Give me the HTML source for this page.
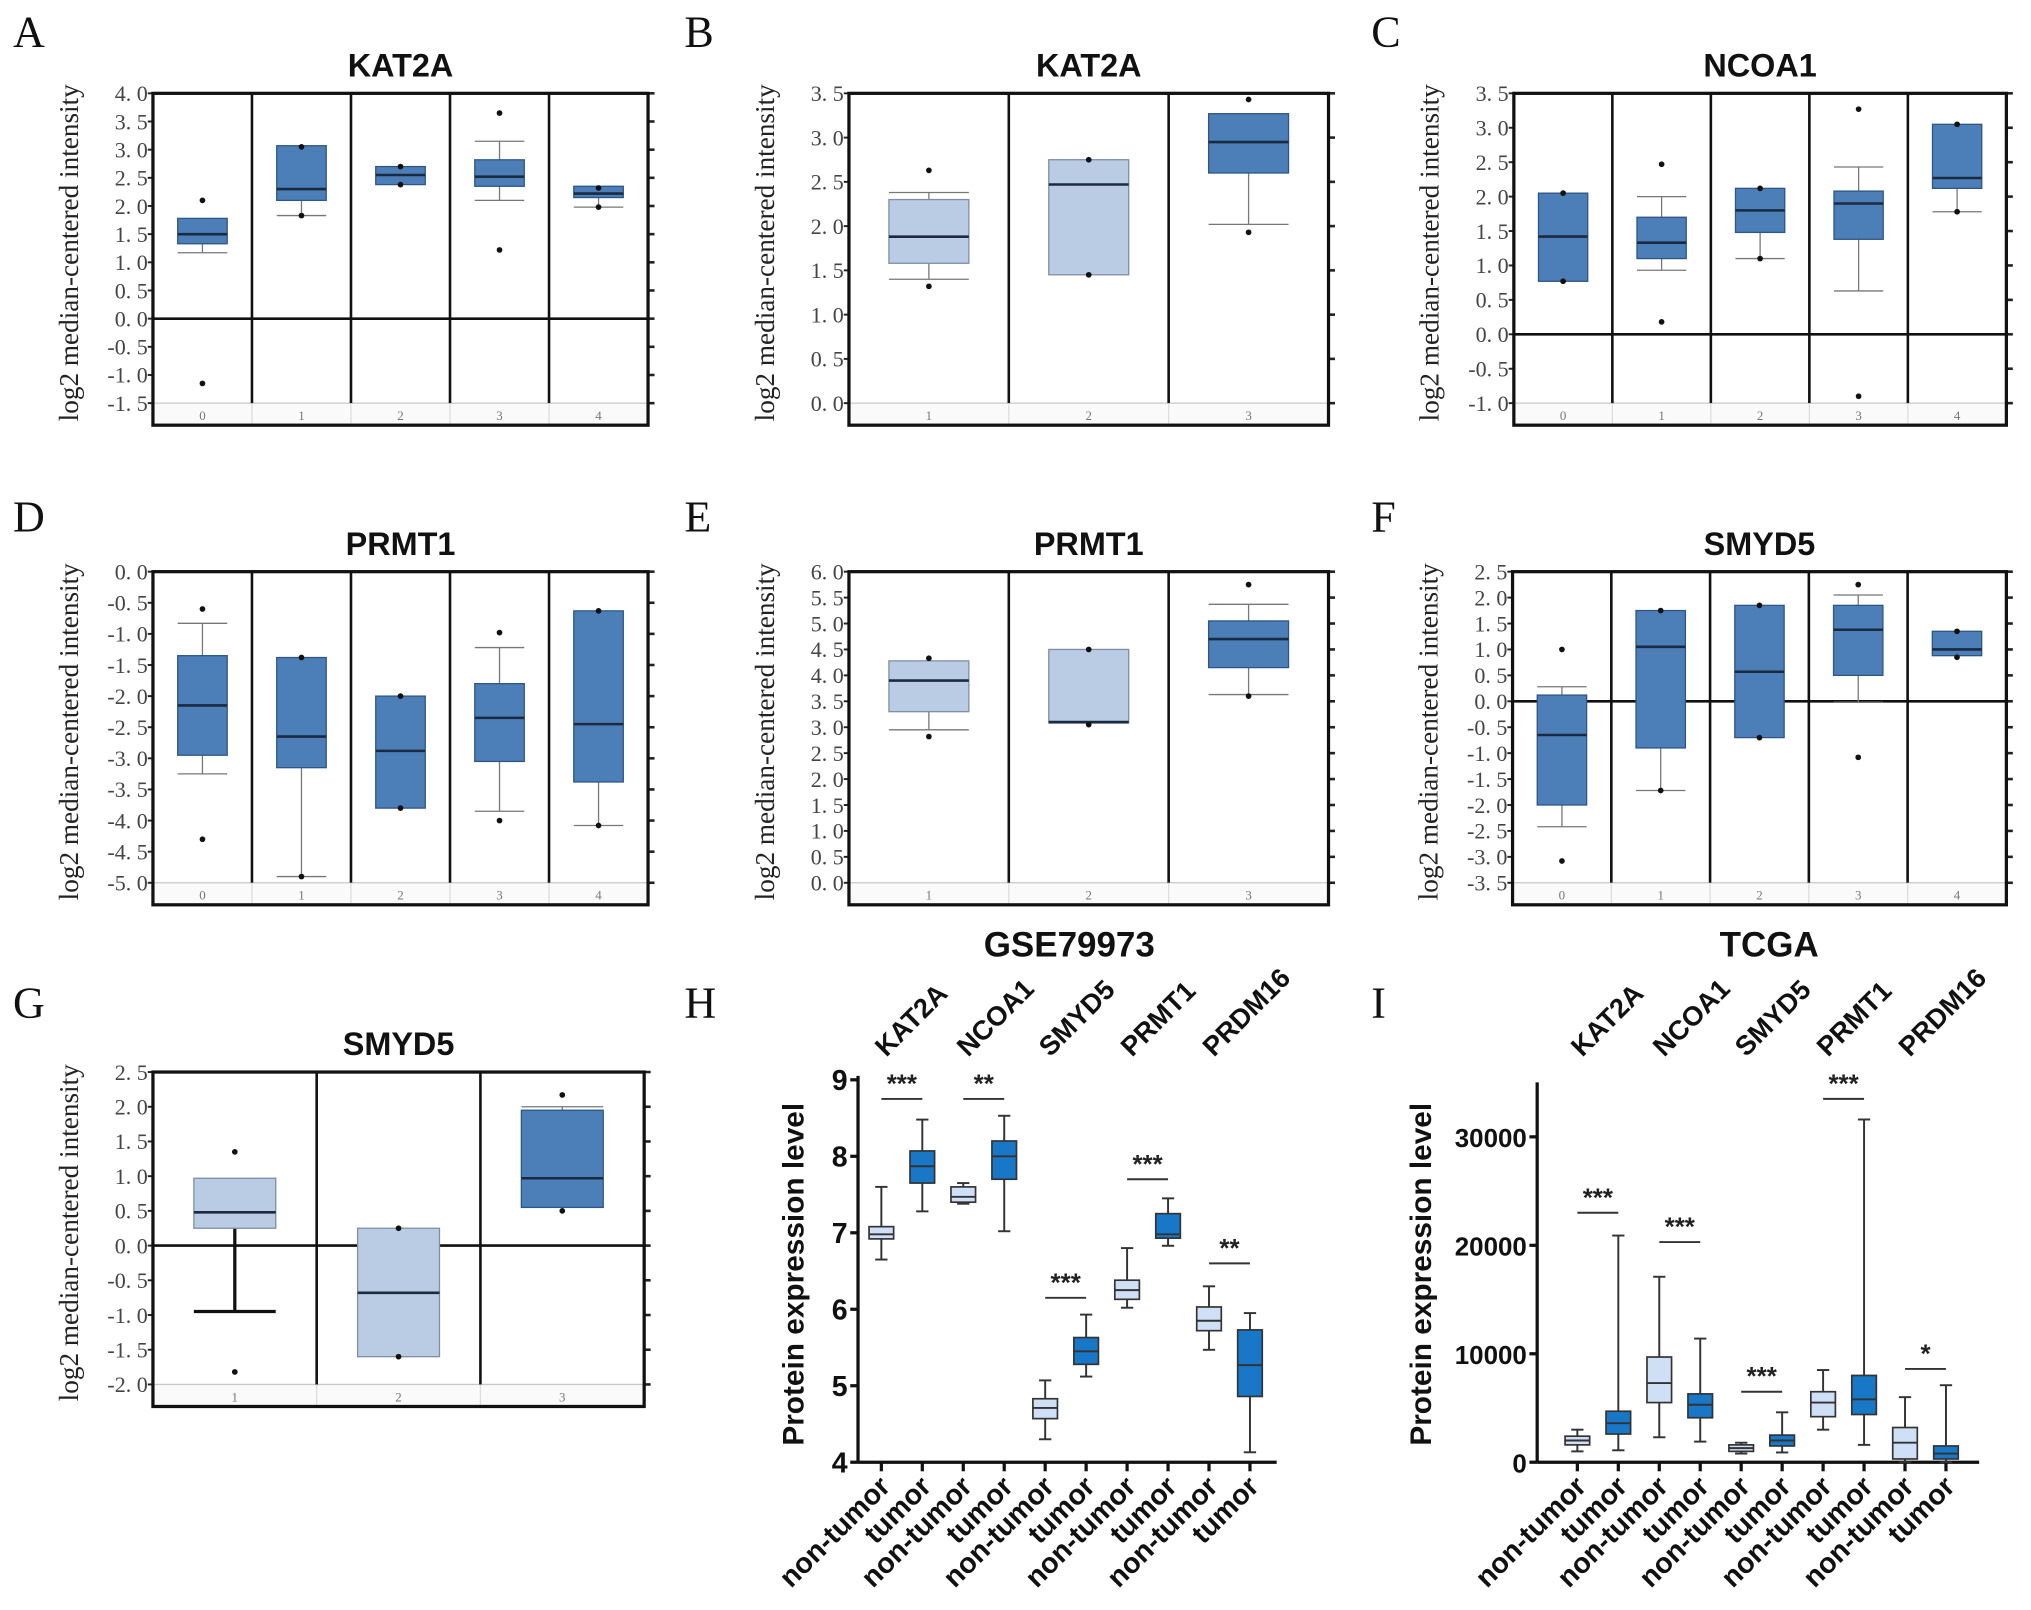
<!DOCTYPE html>
<html><head><meta charset="utf-8">
<style>
html,body{margin:0;padding:0;background:#fff;}
svg{display:block;}
.serif{font-family:"Liberation Serif",serif;}
.sans{font-family:"Liberation Sans",sans-serif;}
</style></head>
<body>
<svg id="fig" xmlns="http://www.w3.org/2000/svg" width="2031" height="1610" viewBox="0 0 1567 1242" preserveAspectRatio="none"></svg>
<script>
// ---------- Oncomine panel data (q1, median, q3, whisker lo, whisker hi, outliers) ----------
const aGroups = ["0","1","2","3","4"];
const aQ1 = [1.33, 2.1, 2.38, 2.35, 2.15];
const aMed = [1.5, 2.3, 2.55, 2.52, 2.22];
const aQ3 = [1.78, 3.07, 2.7, 2.82, 2.35];
const aLo = [1.17, 1.83, 2.38, 2.1, 1.98];
const aHi = [1.78, 3.07, 2.7, 3.15, 2.35];
const aOut = [[2.1, -1.15], [3.05, 1.83], [2.7, 2.38], [3.65, 1.22], [2.32, 1.98]];

const bGroups = ["1","2","3"];
const bQ1 = [1.58, 1.45, 2.6];
const bMed = [1.88, 2.47, 2.95];
const bQ3 = [2.3, 2.75, 3.27];
const bLo = [1.4, 1.45, 2.02];
const bHi = [2.38, 2.75, 3.27];
const bOut = [[2.63, 1.32], [2.75, 1.45], [3.43, 1.93]];

const cGroups = ["0","1","2","3","4"];
const cQ1 = [0.77, 1.1, 1.48, 1.38, 2.12];
const cMed = [1.42, 1.33, 1.8, 1.9, 2.27];
const cQ3 = [2.05, 1.7, 2.12, 2.08, 3.05];
const cLo = [0.77, 0.93, 1.1, 0.63, 1.78];
const cHi = [2.05, 2.0, 2.12, 2.43, 3.05];
const cOut = [[2.05, 0.77], [2.47, 0.18], [2.12, 1.1], [3.27, -0.9], [3.05, 1.78]];

const dGroups = ["0","1","2","3","4"];
const dQ1 = [-2.95, -3.15, -3.8, -3.05, -3.38];
const dMed = [-2.15, -2.65, -2.88, -2.35, -2.45];
const dQ3 = [-1.35, -1.38, -2.0, -1.8, -0.63];
const dLo = [-3.25, -4.9, -3.8, -3.85, -4.08];
const dHi = [-0.83, -1.38, -2.0, -1.22, -0.63];
const dOut = [[-0.6, -4.3], [-1.38, -4.9], [-2.0, -3.8], [-0.98, -4.0], [-0.63, -4.08]];

const eGroups = ["1","2","3"];
const eQ1 = [3.3, 3.08, 4.15];
const eMed = [3.9, 3.1, 4.7];
const eQ3 = [4.28, 4.5, 5.05];
const eLo = [2.95, 3.08, 3.63];
const eHi = [4.28, 4.5, 5.37];
const eOut = [[4.33, 2.82], [4.5, 3.05], [5.75, 3.6]];

const fGroups = ["0","1","2","3","4"];
const fQ1 = [-2.0, -0.9, -0.7, 0.5, 0.88];
const fMed = [-0.65, 1.05, 0.57, 1.38, 1.0];
const fQ3 = [0.12, 1.75, 1.85, 1.85, 1.35];
const fLo = [-2.42, -1.72, -0.7, -0.02, 0.88];
const fHi = [0.28, 1.75, 1.85, 2.05, 1.35];
const fOut = [[1.0, -3.08], [1.75, -1.72], [1.85, -0.7], [2.25, -1.08], [1.35, 0.85]];

const gGroups = ["1","2","3"];
const gQ1 = [0.25, -1.6, 0.55];
const gMed = [0.48, -0.68, 0.97];
const gQ3 = [0.97, 0.25, 1.95];
const gLo = [-0.95, -1.6, 0.55];
const gHi = [0.97, 0.25, 2.0];
const gOut = [[1.35, -1.82], [0.25, -1.6], [2.17, 0.5]];

// ---------- Protein panels ----------
const genes = ["KAT2A","NCOA1","SMYD5","PRMT1","PRDM16"];
const sampleLabels = ["non-tumor","tumor","non-tumor","tumor","non-tumor","tumor","non-tumor","tumor","non-tumor","tumor"];
const hLo = [6.65, 7.28, 7.38, 7.02, 4.3, 5.12, 6.02, 6.83, 5.47, 4.13];
const hQ1 = [6.92, 7.65, 7.4, 7.7, 4.57, 5.28, 6.13, 6.93, 5.72, 4.86];
const hMed = [6.98, 7.87, 7.47, 8.0, 4.71, 5.45, 6.25, 6.98, 5.85, 5.27];
const hQ3 = [7.08, 8.07, 7.6, 8.2, 4.83, 5.63, 6.38, 7.25, 6.03, 5.73];
const hHi = [7.6, 8.48, 7.65, 8.53, 5.07, 5.93, 6.8, 7.45, 6.3, 5.95];
const hSig = ["***","**","***","***","**"];
const hSigY = [8.75, 8.75, 6.15, 7.7, 6.6];
const hTicks = [4,5,6,7,8,9];

const iLo = [1000, 1100, 2300, 1900, 800, 900, 3000, 1600, 0, 0];
const iQ1 = [1600, 2600, 5500, 4100, 1000, 1500, 4200, 4400, 300, 300];
const iMed = [2000, 3600, 7300, 5300, 1300, 2000, 5500, 5800, 1800, 800];
const iQ3 = [2400, 4700, 9700, 6300, 1600, 2500, 6500, 8000, 3200, 1500];
const iHi = [3000, 20900, 17100, 11400, 1800, 4600, 8500, 31600, 6000, 7100];
const iSig = ["***","***","***","***","*"];
const iSigY = [23000, 20300, 6500, 33500, 8600];
const iTicks = [0, 10000, 20000, 30000];

const NS = "http://www.w3.org/2000/svg";
const svg = document.getElementById("fig");
function mk(tag, attrs, parent, text){
  const e = document.createElementNS(NS, tag);
  for (const k in attrs) e.setAttribute(k, attrs[k]);
  if (text !== undefined) e.textContent = text;
  (parent || svg).appendChild(e);
  return e;
}

function panelLetter(ch, x, y){
  const t = mk("text", {x:x, y:y, "font-size":34, class:"serif", fill:"#111"}, svg, ch);
  
  
}

function onco(o){
  const g = mk("g", {});
  
  
  const n = o.groups.length;
  const span = o.yBot - o.yTop;
  const y = v => o.yTop + (o.max - v) / (o.max - o.min) * span;
  const colW = (o.x1 - o.x0) / n;
  const cx = i => o.x0 + colW * (i + 0.5);
  const bottom = o.yBot + 17;
  const tt = mk("text", {x:(o.x0+o.x1)/2, y:o.yTop-13, "text-anchor":"middle", "font-size":25, "font-weight":"bold", class:"sans", fill:"#111"}, g, o.title);
  
  
  const mid = (o.yTop + bottom) / 2 - 5;
  const tx = o.x0 - 58;
  const yt = mk("text", {x:tx, y:mid, transform:`rotate(-90 ${tx} ${mid})`, "text-anchor":"middle", "font-size":21, class:"serif", fill:"#222"}, g, "log2 median-centered intensity");
  
  
  mk("rect", {x:o.x0, y:o.yBot, width:o.x1-o.x0, height:bottom-o.yBot, fill:"#fafafa"}, g);
  mk("line", {x1:o.x0, x2:o.x1, y1:o.yBot, y2:o.yBot, stroke:"#c8c8c8", "stroke-width":1}, g);
  for (let v = o.min; v <= o.max + 1e-9; v += 0.5) {
    const yy = y(v);
    const lab = mk("text", {x:o.x0-4, y:yy+6, "text-anchor":"end", "font-size":17, class:"serif", fill:"#444"}, g, v.toFixed(1).replace(".", ". "));
    
    
    mk("line", {x1:o.x0-4, x2:o.x0, y1:yy, y2:yy, stroke:"#222", "stroke-width":1.5}, g);
    mk("line", {x1:o.x1, x2:o.x1+5, y1:yy, y2:yy, stroke:"#222", "stroke-width":2}, g);
  }
  if (o.min < 0 && o.max > 0) mk("line", {x1:o.x0, x2:o.x1, y1:y(0), y2:y(0), stroke:"#111", "stroke-width":2}, g);
  for (let i = 1; i < n; i++) {
    const xx = o.x0 + colW * i;
    mk("line", {x1:xx, x2:xx, y1:o.yTop, y2:o.yBot, stroke:"#111", "stroke-width":2}, g);
    mk("line", {x1:xx, x2:xx, y1:o.yBot, y2:bottom, stroke:"#ddd", "stroke-width":1}, g);
  }
  const fr = mk("rect", {x:o.x0, y:o.yTop, width:o.x1-o.x0, height:bottom-o.yTop, fill:"none", stroke:"#111", "stroke-width":2.5}, g);
  
  
  const bw = colW * 0.5;
  for (let i = 0; i < n; i++) {
    const c = cx(i);
    const fill = o.light && o.light[i] ? "#b9cce4" : "#4c7fb8";
    const stroke = o.light && o.light[i] ? "#7f8fa3" : "#2d5686";
    const ww = o.thick && o.thick[i] ? 2.5 : 1;
    const wc = o.thick && o.thick[i] ? "#111" : "#777";
    if (o.lo[i] < o.q1[i]) {
      mk("line", {x1:c, x2:c, y1:y(o.q1[i]), y2:y(o.lo[i]), stroke:wc, "stroke-width":ww}, g);
      mk("line", {x1:c-bw/2, x2:c+bw/2, y1:y(o.lo[i]), y2:y(o.lo[i]), stroke:wc, "stroke-width":ww}, g);
    }
    if (o.hi[i] > o.q3[i]) {
      mk("line", {x1:c, x2:c, y1:y(o.q3[i]), y2:y(o.hi[i]), stroke:wc, "stroke-width":ww}, g);
      mk("line", {x1:c-bw/2, x2:c+bw/2, y1:y(o.hi[i]), y2:y(o.hi[i]), stroke:wc, "stroke-width":ww}, g);
    }
    const b = mk("rect", {x:c-bw/2, y:y(o.q3[i]), width:bw, height:y(o.q1[i])-y(o.q3[i]), fill:fill, stroke:stroke, "stroke-width":1}, g);
    
    
    mk("line", {x1:c-bw/2, x2:c+bw/2, y1:y(o.med[i]), y2:y(o.med[i]), stroke:"#1a2a40", "stroke-width":2}, g);
    for (const ov of o.out[i]) {
      const d = mk("circle", {cx:c, cy:y(ov), r:2.2, fill:"#111"}, g);
      
      
    }
    const gl = mk("text", {x:c, y:bottom-4, "text-anchor":"middle", "font-size":10, class:"serif", fill:"#777"}, g, o.groups[i]);
    
    
  }
}

onco({name:"panel-a-kat2a", title:"KAT2A", x0:118, x1:500, yTop:72, yBot:311, min:-1.5, max:4.0, groups:aGroups, q1:aQ1, med:aMed, q3:aQ3, lo:aLo, hi:aHi, out:aOut});
onco({name:"panel-b-kat2a", title:"KAT2A", x0:655, x1:1025, yTop:72, yBot:311, min:0, max:3.5, groups:bGroups, q1:bQ1, med:bMed, q3:bQ3, lo:bLo, hi:bHi, out:bOut, light:[1,1,0]});
onco({name:"panel-c-ncoa1", title:"NCOA1", x0:1168, x1:1548, yTop:72, yBot:311, min:-1.0, max:3.5, groups:cGroups, q1:cQ1, med:cMed, q3:cQ3, lo:cLo, hi:cHi, out:cOut});
onco({name:"panel-d-prmt1", title:"PRMT1", x0:118, x1:500, yTop:441, yBot:681, min:-5.0, max:0, groups:dGroups, q1:dQ1, med:dMed, q3:dQ3, lo:dLo, hi:dHi, out:dOut});
onco({name:"panel-e-prmt1", title:"PRMT1", x0:655, x1:1025, yTop:441, yBot:681, min:0, max:6.0, groups:eGroups, q1:eQ1, med:eMed, q3:eQ3, lo:eLo, hi:eHi, out:eOut, light:[1,1,0]});
onco({name:"panel-f-smyd5", title:"SMYD5", x0:1167, x1:1548, yTop:441, yBot:681, min:-3.5, max:2.5, groups:fGroups, q1:fQ1, med:fMed, q3:fQ3, lo:fLo, hi:fHi, out:fOut});
onco({name:"panel-g-smyd5", title:"SMYD5", x0:118, x1:497, yTop:827, yBot:1068, min:-2.0, max:2.5, groups:gGroups, q1:gQ1, med:gMed, q3:gQ3, lo:gLo, hi:gHi, out:gOut, light:[1,1,0], thick:[1,0,0]});

function prism(o){
  const g = mk("g", {});
  
  
  const y = v => o.y0 - (v - o.min) / (o.max - o.min) * (o.y0 - o.yMaxPx);
  const x = i => o.xFirst + i * o.step;
  const tt = mk("text", {x:o.titleX, y:738, "text-anchor":"middle", "font-size":27, "font-weight":"bold", class:"sans", fill:"#111"}, g, o.title);
  
  
  const mid = 983;
  const yt = mk("text", {x:o.axX-o.titleOff, y:mid, transform:`rotate(-90 ${o.axX-o.titleOff} ${mid})`, "text-anchor":"middle", "font-size":23, "font-weight":"bold", class:"sans", fill:"#111"}, g, "Protein expression level");
  
  
  mk("line", {x1:o.axX, x2:o.axX, y1:o.axTop, y2:o.y0, stroke:"#111", "stroke-width":2.5}, g);
  mk("line", {x1:o.axX, x2:o.axRight, y1:o.y0, y2:o.y0, stroke:"#111", "stroke-width":2.5}, g);
  for (const t of o.ticks) {
    mk("line", {x1:o.axX-6, x2:o.axX, y1:y(t), y2:y(t), stroke:"#111", "stroke-width":2.5}, g);
    const l = mk("text", {x:o.axX-8, y:y(t)+8, "text-anchor":"end", "font-size":o.tickFs, "font-weight":"bold", class:"sans", fill:"#111"}, g, String(t));
    
    
  }
  const bw = o.step * 0.6;
  for (let i = 0; i < o.lo.length; i++) {
    const c = x(i);
    const light = i % 2 === 0;
    mk("line", {x1:c, x2:c, y1:o.y0, y2:o.y0+7, stroke:"#111", "stroke-width":2.5}, g);
    mk("line", {x1:c, x2:c, y1:y(o.lo[i]), y2:y(o.hi[i]), stroke:"#333", "stroke-width":1.5}, g);
    mk("line", {x1:c-bw/4, x2:c+bw/4, y1:y(o.lo[i]), y2:y(o.lo[i]), stroke:"#333", "stroke-width":1.5}, g);
    mk("line", {x1:c-bw/4, x2:c+bw/4, y1:y(o.hi[i]), y2:y(o.hi[i]), stroke:"#333", "stroke-width":1.5}, g);
    const b = mk("rect", {x:c-bw/2, y:y(o.q3[i]), width:bw, height:Math.max(1, y(o.q1[i])-y(o.q3[i])), fill: light ? "#cfe0f6" : "#1877c6", stroke:"#333", "stroke-width":1.3}, g);
    
    
    mk("line", {x1:c-bw/2, x2:c+bw/2, y1:y(o.med[i]), y2:y(o.med[i]), stroke:"#333", "stroke-width":1.5}, g);
    const lx = c + 8, ly = o.y0 + 20;
    const xl = mk("text", {x:lx, y:ly, transform:`rotate(-45 ${lx} ${ly})`, "text-anchor":"end", "font-size":22, "font-weight":"bold", class:"sans", fill:"#111"}, g, o.labels[i]);
    
    
  }
  for (let k = 0; k < genes.length; k++) {
    const c0 = x(2*k), c1 = x(2*k+1);
    const gx = (c0 + c1) / 2 - 12, gy = 816;
    const gl = mk("text", {x:gx, y:gy, transform:`rotate(-45 ${gx} ${gy})`, "font-size":21, "font-weight":"bold", class:"sans", fill:"#111"}, g, genes[k]);
    
    
    const sy = y(o.sigY[k]);
    mk("line", {x1:c0, x2:c1, y1:sy, y2:sy, stroke:"#333", "stroke-width":1.5}, g);
    const st = mk("text", {x:(c0+c1)/2, y:sy-5, "text-anchor":"middle", "font-size":20, "font-weight":"bold", class:"sans", fill:"#222"}, g, o.sig[k]);
    
    
  }
}

prism({name:"panel-h-gse79973", title:"GSE79973", titleX:825, axX:662, axTop:830, axRight:985, titleOff:42, xFirst:680, step:31.6, y0:1128, yMaxPx:833, min:4, max:9, ticks:hTicks, tickFs:22,
  lo:hLo, q1:hQ1, med:hMed, q3:hQ3, hi:hHi, sig:hSig, sigY:hSigY, labels:sampleLabels});
prism({name:"panel-i-tcga", title:"TCGA", titleX:1365, axX:1186, axTop:835, axRight:1527, titleOff:82, xFirst:1217, step:31.6, y0:1128, yMaxPx:877, min:0, max:30000, ticks:iTicks, tickFs:20,
  lo:iLo, q1:iQ1, med:iMed, q3:iQ3, hi:iHi, sig:iSig, sigY:iSigY, labels:sampleLabels});

panelLetter("A", 10, 36); panelLetter("B", 528, 36); panelLetter("C", 1058, 36);
panelLetter("D", 10, 410); panelLetter("E", 528, 410); panelLetter("F", 1058, 410);
panelLetter("G", 10, 785); panelLetter("H", 528, 785); panelLetter("I", 1058, 785);
</script>
</body></html>
